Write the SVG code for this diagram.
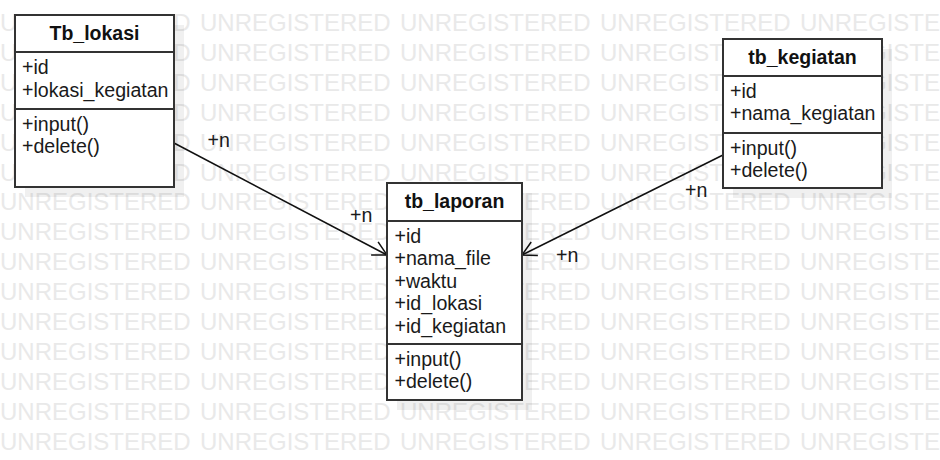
<svg xmlns="http://www.w3.org/2000/svg" xmlns:xlink="http://www.w3.org/1999/xlink" width="940" height="460" viewBox="0 0 940 460">
<style>
.wm{font-family:"Liberation Sans",Arial,sans-serif;font-size:24px;fill:#e9e9e9}
.box{fill:#fff;stroke:#333;stroke-width:2}
.sh{fill:#000;fill-opacity:0.06}
.div{stroke:#333;stroke-width:2}
.t{font-family:"Liberation Sans",Arial,sans-serif;font-size:19.6px;fill:#1a1a1a}
.h{font-family:"Liberation Sans",Arial,sans-serif;font-size:19.5px;font-weight:bold;fill:#111;text-anchor:middle}
.c{fill:none;stroke:#111;stroke-width:1.5}
</style>
<defs>
<g id="wmrow">
<text class="wm" x="0" y="0">UNREGISTERED</text>
<text class="wm" x="200" y="0">UNREGISTERED</text>
<text class="wm" x="400" y="0">UNREGISTERED</text>
<text class="wm" x="600" y="0">UNREGISTERED</text>
<text class="wm" x="800" y="0">UNREGISTERED</text>
</g>
<marker id="open" viewBox="-16 -9 18 18" refX="0" refY="0" markerWidth="18" markerHeight="18" markerUnits="userSpaceOnUse" orient="auto">
<path d="M-14,-7.5 L0,0 L-14,7.5" fill="none" stroke="#111" stroke-width="1.5"/>
</marker>
</defs>
<rect width="940" height="460" fill="#fff"/>
<g id="watermark">
<use xlink:href="#wmrow" y="31"/>
<use xlink:href="#wmrow" y="60.9"/>
<use xlink:href="#wmrow" y="90.8"/>
<use xlink:href="#wmrow" y="120.7"/>
<use xlink:href="#wmrow" y="150.6"/>
<use xlink:href="#wmrow" y="180.5"/>
<use xlink:href="#wmrow" y="210.4"/>
<use xlink:href="#wmrow" y="240.3"/>
<use xlink:href="#wmrow" y="270.2"/>
<use xlink:href="#wmrow" y="300.1"/>
<use xlink:href="#wmrow" y="330"/>
<use xlink:href="#wmrow" y="359.9"/>
<use xlink:href="#wmrow" y="389.8"/>
<use xlink:href="#wmrow" y="419.7"/>
<use xlink:href="#wmrow" y="449.6"/>
</g>
<g id="connectors">
<line class="c" x1="174" y1="143" x2="387" y2="255" marker-end="url(#open)"/>
<line class="c" x1="723" y1="155" x2="522" y2="255" marker-end="url(#open)"/>
<text class="t" x="207.5" y="147">+n</text>
<text class="t" x="350" y="222">+n</text>
<text class="t" x="685" y="197">+n</text>
<text class="t" x="556" y="262">+n</text>
</g>
<g id="Tb_lokasi">
<rect class="sh" x="25" y="25" width="159" height="172"/>
<rect class="box" x="15" y="15" width="159" height="172"/>
<line class="div" x1="15" y1="52" x2="174" y2="52"/>
<line class="div" x1="15" y1="109" x2="174" y2="109"/>
<text class="h" x="94.5" y="40">Tb_lokasi</text>
<text class="t" x="22" y="74">+id</text>
<text class="t" x="22" y="96.5">+lokasi_kegiatan</text>
<text class="t" x="22" y="130.5">+input()</text>
<text class="t" x="22" y="153">+delete()</text>
</g>
<g id="tb_laporan">
<rect class="sh" x="397" y="193" width="135" height="217"/>
<rect class="box" x="387" y="183" width="135" height="217"/>
<line class="div" x1="387" y1="221" x2="522" y2="221"/>
<line class="div" x1="387" y1="344" x2="522" y2="344"/>
<text class="h" x="454.5" y="208">tb_laporan</text>
<text class="t" x="394.5" y="242.5">+id</text>
<text class="t" x="394.5" y="265">+nama_file</text>
<text class="t" x="394.5" y="287.5">+waktu</text>
<text class="t" x="394.5" y="310">+id_lokasi</text>
<text class="t" x="394.5" y="332.5">+id_kegiatan</text>
<text class="t" x="394.5" y="365.5">+input()</text>
<text class="t" x="394.5" y="388">+delete()</text>
</g>
<g id="tb_kegiatan">
<rect class="sh" x="733" y="49" width="159" height="149"/>
<rect class="box" x="723" y="39" width="159" height="149"/>
<line class="div" x1="723" y1="76" x2="882" y2="76"/>
<line class="div" x1="723" y1="133" x2="882" y2="133"/>
<text class="h" x="802.5" y="64">tb_kegiatan</text>
<text class="t" x="730" y="97.5">+id</text>
<text class="t" x="730" y="120">+nama_kegiatan</text>
<text class="t" x="730" y="154.5">+input()</text>
<text class="t" x="730" y="177">+delete()</text>
</g>
</svg>
